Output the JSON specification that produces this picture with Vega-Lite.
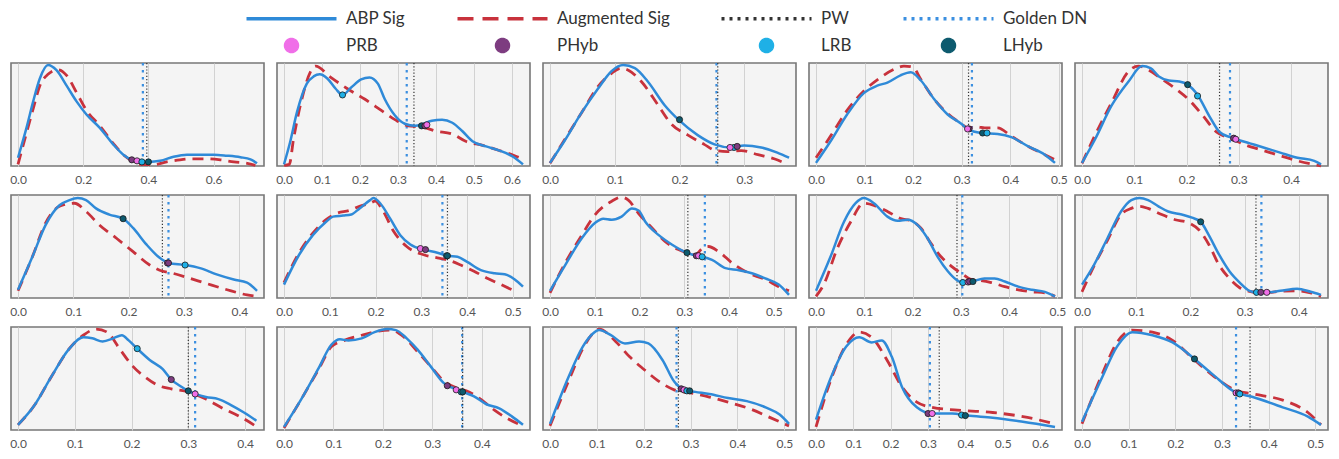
{
  "$schema": "https://vega.github.io/schema/vega-lite/v6.json",
  "padding": {"left": 8, "top": 10, "right": 4, "bottom": 4},
  "background": "white",
  "data": {"values": [
    {"panel":1,"series":"ABP Sig","x":0,"y":0.08},{"panel":1,"series":"ABP Sig","x":0.026,"y":0.37},{"panel":1,"series":"ABP Sig","x":0.046,"y":0.62},{"panel":1,"series":"ABP Sig","x":0.067,"y":0.85},{"panel":1,"series":"ABP Sig","x":0.092,"y":0.98},{"panel":1,"series":"ABP Sig","x":0.118,"y":0.93},{"panel":1,"series":"ABP Sig","x":0.149,"y":0.78},{"panel":1,"series":"ABP Sig","x":0.179,"y":0.63},{"panel":1,"series":"ABP Sig","x":0.21,"y":0.5},{"panel":1,"series":"ABP Sig","x":0.251,"y":0.37},{"panel":1,"series":"ABP Sig","x":0.292,"y":0.21},{"panel":1,"series":"ABP Sig","x":0.323,"y":0.11},{"panel":1,"series":"ABP Sig","x":0.349,"y":0.06},{"panel":1,"series":"ABP Sig","x":0.374,"y":0.04},{"panel":1,"series":"ABP Sig","x":0.4,"y":0.04},{"panel":1,"series":"ABP Sig","x":0.436,"y":0.05},{"panel":1,"series":"ABP Sig","x":0.477,"y":0.09},{"panel":1,"series":"ABP Sig","x":0.518,"y":0.11},{"panel":1,"series":"ABP Sig","x":0.559,"y":0.11},{"panel":1,"series":"ABP Sig","x":0.6,"y":0.11},{"panel":1,"series":"ABP Sig","x":0.641,"y":0.1},{"panel":1,"series":"ABP Sig","x":0.682,"y":0.085},{"panel":1,"series":"ABP Sig","x":0.713,"y":0.065},{"panel":1,"series":"ABP Sig","x":0.733,"y":0.026},
    {"panel":1,"series":"Augmented Sig","x":0,"y":0.016},{"panel":1,"series":"Augmented Sig","x":0.026,"y":0.32},{"panel":1,"series":"Augmented Sig","x":0.046,"y":0.55},{"panel":1,"series":"Augmented Sig","x":0.067,"y":0.78},{"panel":1,"series":"Augmented Sig","x":0.092,"y":0.89},{"panel":1,"series":"Augmented Sig","x":0.123,"y":0.935},{"panel":1,"series":"Augmented Sig","x":0.149,"y":0.88},{"panel":1,"series":"Augmented Sig","x":0.18,"y":0.71},{"panel":1,"series":"Augmented Sig","x":0.21,"y":0.54},{"panel":1,"series":"Augmented Sig","x":0.251,"y":0.39},{"panel":1,"series":"Augmented Sig","x":0.292,"y":0.22},{"panel":1,"series":"Augmented Sig","x":0.323,"y":0.11},{"panel":1,"series":"Augmented Sig","x":0.349,"y":0.05},{"panel":1,"series":"Augmented Sig","x":0.374,"y":0.016},{"panel":1,"series":"Augmented Sig","x":0.415,"y":0.013},{"panel":1,"series":"Augmented Sig","x":0.456,"y":0.04},{"panel":1,"series":"Augmented Sig","x":0.497,"y":0.06},{"panel":1,"series":"Augmented Sig","x":0.538,"y":0.07},{"panel":1,"series":"Augmented Sig","x":0.579,"y":0.07},{"panel":1,"series":"Augmented Sig","x":0.621,"y":0.06},{"panel":1,"series":"Augmented Sig","x":0.662,"y":0.04},{"panel":1,"series":"Augmented Sig","x":0.703,"y":0.026},{"panel":1,"series":"Augmented Sig","x":0.728,"y":0.006},
    {"panel":1,"series":"PW","x":0.395},{"panel":1,"series":"Golden DN","x":0.383},
    {"panel":1,"series":"PHyb","x":0.349,"y":0.06},{"panel":1,"series":"PRB","x":0.365,"y":0.05},{"panel":1,"series":"LRB","x":0.38,"y":0.04},{"panel":1,"series":"LHyb","x":0.4,"y":0.04},

    {"panel":2,"series":"ABP Sig","x":0,"y":0.016},{"panel":2,"series":"ABP Sig","x":0.016,"y":0.23},{"panel":2,"series":"ABP Sig","x":0.034,"y":0.52},{"panel":2,"series":"ABP Sig","x":0.06,"y":0.8},{"panel":2,"series":"ABP Sig","x":0.078,"y":0.87},{"panel":2,"series":"ABP Sig","x":0.094,"y":0.89},{"panel":2,"series":"ABP Sig","x":0.114,"y":0.85},{"panel":2,"series":"ABP Sig","x":0.136,"y":0.75},{"panel":2,"series":"ABP Sig","x":0.154,"y":0.69},{"panel":2,"series":"ABP Sig","x":0.176,"y":0.76},{"panel":2,"series":"ABP Sig","x":0.203,"y":0.84},{"panel":2,"series":"ABP Sig","x":0.225,"y":0.86},{"panel":2,"series":"ABP Sig","x":0.247,"y":0.8},{"panel":2,"series":"ABP Sig","x":0.265,"y":0.65},{"panel":2,"series":"ABP Sig","x":0.292,"y":0.49},{"panel":2,"series":"ABP Sig","x":0.318,"y":0.41},{"panel":2,"series":"ABP Sig","x":0.345,"y":0.39},{"panel":2,"series":"ABP Sig","x":0.367,"y":0.41},{"panel":2,"series":"ABP Sig","x":0.389,"y":0.44},{"panel":2,"series":"ABP Sig","x":0.416,"y":0.45},{"panel":2,"series":"ABP Sig","x":0.443,"y":0.42},{"panel":2,"series":"ABP Sig","x":0.469,"y":0.34},{"panel":2,"series":"ABP Sig","x":0.496,"y":0.24},{"panel":2,"series":"ABP Sig","x":0.532,"y":0.19},{"panel":2,"series":"ABP Sig","x":0.567,"y":0.15},{"panel":2,"series":"ABP Sig","x":0.603,"y":0.09},{"panel":2,"series":"ABP Sig","x":0.629,"y":0.016},
    {"panel":2,"series":"Augmented Sig","x":0,"y":0.006},{"panel":2,"series":"Augmented Sig","x":0.014,"y":0.016},{"panel":2,"series":"Augmented Sig","x":0.025,"y":0.26},{"panel":2,"series":"Augmented Sig","x":0.047,"y":0.65},{"panel":2,"series":"Augmented Sig","x":0.069,"y":0.91},{"panel":2,"series":"Augmented Sig","x":0.083,"y":0.97},{"panel":2,"series":"Augmented Sig","x":0.123,"y":0.86},{"panel":2,"series":"Augmented Sig","x":0.167,"y":0.75},{"panel":2,"series":"Augmented Sig","x":0.212,"y":0.65},{"panel":2,"series":"Augmented Sig","x":0.256,"y":0.54},{"panel":2,"series":"Augmented Sig","x":0.292,"y":0.45},{"panel":2,"series":"Augmented Sig","x":0.327,"y":0.39},{"panel":2,"series":"Augmented Sig","x":0.363,"y":0.38},{"panel":2,"series":"Augmented Sig","x":0.398,"y":0.34},{"panel":2,"series":"Augmented Sig","x":0.443,"y":0.31},{"panel":2,"series":"Augmented Sig","x":0.478,"y":0.24},{"panel":2,"series":"Augmented Sig","x":0.523,"y":0.2},{"panel":2,"series":"Augmented Sig","x":0.567,"y":0.15},{"panel":2,"series":"Augmented Sig","x":0.607,"y":0.1},{"panel":2,"series":"Augmented Sig","x":0.62,"y":0.08},
    {"panel":2,"series":"PW","x":0.342},{"panel":2,"series":"Golden DN","x":0.323},
    {"panel":2,"series":"LRB","x":0.154,"y":0.69},{"panel":2,"series":"LHyb","x":0.362,"y":0.39},{"panel":2,"series":"PHyb","x":0.371,"y":0.39},{"panel":2,"series":"PRB","x":0.376,"y":0.4},

    {"panel":3,"series":"ABP Sig","x":0,"y":0.03},{"panel":3,"series":"ABP Sig","x":0.023,"y":0.25},{"panel":3,"series":"ABP Sig","x":0.049,"y":0.52},{"panel":3,"series":"ABP Sig","x":0.074,"y":0.75},{"panel":3,"series":"ABP Sig","x":0.095,"y":0.92},{"panel":3,"series":"ABP Sig","x":0.113,"y":0.98},{"panel":3,"series":"ABP Sig","x":0.131,"y":0.95},{"panel":3,"series":"ABP Sig","x":0.151,"y":0.82},{"panel":3,"series":"ABP Sig","x":0.177,"y":0.59},{"panel":3,"series":"ABP Sig","x":0.2,"y":0.44},{"panel":3,"series":"ABP Sig","x":0.228,"y":0.3},{"panel":3,"series":"ABP Sig","x":0.254,"y":0.21},{"panel":3,"series":"ABP Sig","x":0.279,"y":0.18},{"panel":3,"series":"ABP Sig","x":0.3,"y":0.2},{"panel":3,"series":"ABP Sig","x":0.326,"y":0.18},{"panel":3,"series":"ABP Sig","x":0.351,"y":0.13},{"panel":3,"series":"ABP Sig","x":0.369,"y":0.08},
    {"panel":3,"series":"Augmented Sig","x":0,"y":0.026},{"panel":3,"series":"Augmented Sig","x":0.023,"y":0.26},{"panel":3,"series":"Augmented Sig","x":0.049,"y":0.52},{"panel":3,"series":"Augmented Sig","x":0.074,"y":0.77},{"panel":3,"series":"Augmented Sig","x":0.095,"y":0.9},{"panel":3,"series":"Augmented Sig","x":0.11,"y":0.95},{"panel":3,"series":"Augmented Sig","x":0.121,"y":0.93},{"panel":3,"series":"Augmented Sig","x":0.141,"y":0.82},{"panel":3,"series":"Augmented Sig","x":0.167,"y":0.59},{"panel":3,"series":"Augmented Sig","x":0.187,"y":0.41},{"panel":3,"series":"Augmented Sig","x":0.213,"y":0.3},{"panel":3,"series":"Augmented Sig","x":0.238,"y":0.21},{"panel":3,"series":"Augmented Sig","x":0.256,"y":0.15},{"panel":3,"series":"Augmented Sig","x":0.274,"y":0.14},{"panel":3,"series":"Augmented Sig","x":0.295,"y":0.15},{"panel":3,"series":"Augmented Sig","x":0.321,"y":0.11},{"panel":3,"series":"Augmented Sig","x":0.346,"y":0.07},{"panel":3,"series":"Augmented Sig","x":0.367,"y":0.016},
    {"panel":3,"series":"PW","x":0.259},{"panel":3,"series":"Golden DN","x":0.257},
    {"panel":3,"series":"LHyb","x":0.2,"y":0.45},{"panel":3,"series":"LRB","x":0.284,"y":0.18},{"panel":3,"series":"PRB","x":0.278,"y":0.18},{"panel":3,"series":"PHyb","x":0.289,"y":0.19},

    {"panel":4,"series":"ABP Sig","x":0,"y":0.03},{"panel":4,"series":"ABP Sig","x":0.03,"y":0.24},{"panel":4,"series":"ABP Sig","x":0.064,"y":0.5},{"panel":4,"series":"ABP Sig","x":0.099,"y":0.71},{"panel":4,"series":"ABP Sig","x":0.126,"y":0.78},{"panel":4,"series":"ABP Sig","x":0.147,"y":0.81},{"panel":4,"series":"ABP Sig","x":0.174,"y":0.88},{"panel":4,"series":"ABP Sig","x":0.195,"y":0.91},{"panel":4,"series":"ABP Sig","x":0.216,"y":0.83},{"panel":4,"series":"ABP Sig","x":0.243,"y":0.65},{"panel":4,"series":"ABP Sig","x":0.271,"y":0.5},{"panel":4,"series":"ABP Sig","x":0.299,"y":0.41},{"panel":4,"series":"ABP Sig","x":0.312,"y":0.36},{"panel":4,"series":"ABP Sig","x":0.34,"y":0.32},{"panel":4,"series":"ABP Sig","x":0.374,"y":0.31},{"panel":4,"series":"ABP Sig","x":0.402,"y":0.28},{"panel":4,"series":"ABP Sig","x":0.437,"y":0.19},{"panel":4,"series":"ABP Sig","x":0.471,"y":0.11},{"panel":4,"series":"ABP Sig","x":0.492,"y":0.03},
    {"panel":4,"series":"Augmented Sig","x":0,"y":0.08},{"panel":4,"series":"Augmented Sig","x":0.03,"y":0.29},{"panel":4,"series":"Augmented Sig","x":0.064,"y":0.54},{"panel":4,"series":"Augmented Sig","x":0.099,"y":0.73},{"panel":4,"series":"Augmented Sig","x":0.133,"y":0.86},{"panel":4,"series":"Augmented Sig","x":0.161,"y":0.94},{"panel":4,"series":"Augmented Sig","x":0.181,"y":0.97},{"panel":4,"series":"Augmented Sig","x":0.199,"y":0.96},{"panel":4,"series":"Augmented Sig","x":0.216,"y":0.84},{"panel":4,"series":"Augmented Sig","x":0.243,"y":0.65},{"panel":4,"series":"Augmented Sig","x":0.271,"y":0.51},{"panel":4,"series":"Augmented Sig","x":0.299,"y":0.41},{"panel":4,"series":"Augmented Sig","x":0.312,"y":0.37},{"panel":4,"series":"Augmented Sig","x":0.333,"y":0.38},{"panel":4,"series":"Augmented Sig","x":0.347,"y":0.37},{"panel":4,"series":"Augmented Sig","x":0.374,"y":0.37},{"panel":4,"series":"Augmented Sig","x":0.402,"y":0.29},{"panel":4,"series":"Augmented Sig","x":0.437,"y":0.19},{"panel":4,"series":"Augmented Sig","x":0.471,"y":0.11},{"panel":4,"series":"Augmented Sig","x":0.492,"y":0.06},
    {"panel":4,"series":"PW","x":0.314},{"panel":4,"series":"Golden DN","x":0.321},
    {"panel":4,"series":"PHyb","x":0.315,"y":0.36},{"panel":4,"series":"PRB","x":0.312,"y":0.36},{"panel":4,"series":"LHyb","x":0.343,"y":0.32},{"panel":4,"series":"LRB","x":0.352,"y":0.32},

    {"panel":5,"series":"ABP Sig","x":0,"y":0.03},{"panel":5,"series":"ABP Sig","x":0.025,"y":0.26},{"panel":5,"series":"ABP Sig","x":0.057,"y":0.59},{"panel":5,"series":"ABP Sig","x":0.089,"y":0.82},{"panel":5,"series":"ABP Sig","x":0.115,"y":0.97},{"panel":5,"series":"ABP Sig","x":0.131,"y":0.95},{"panel":5,"series":"ABP Sig","x":0.147,"y":0.87},{"panel":5,"series":"ABP Sig","x":0.166,"y":0.83},{"panel":5,"series":"ABP Sig","x":0.186,"y":0.82},{"panel":5,"series":"ABP Sig","x":0.202,"y":0.79},{"panel":5,"series":"ABP Sig","x":0.221,"y":0.69},{"panel":5,"series":"ABP Sig","x":0.244,"y":0.48},{"panel":5,"series":"ABP Sig","x":0.263,"y":0.33},{"panel":5,"series":"ABP Sig","x":0.283,"y":0.28},{"panel":5,"series":"ABP Sig","x":0.295,"y":0.26},{"panel":5,"series":"ABP Sig","x":0.321,"y":0.22},{"panel":5,"series":"ABP Sig","x":0.347,"y":0.18},{"panel":5,"series":"ABP Sig","x":0.379,"y":0.13},{"panel":5,"series":"ABP Sig","x":0.412,"y":0.08},{"panel":5,"series":"ABP Sig","x":0.444,"y":0.05},{"panel":5,"series":"ABP Sig","x":0.457,"y":0.016},
    {"panel":5,"series":"Augmented Sig","x":0,"y":0.026},{"panel":5,"series":"Augmented Sig","x":0.025,"y":0.3},{"panel":5,"series":"Augmented Sig","x":0.057,"y":0.62},{"panel":5,"series":"Augmented Sig","x":0.089,"y":0.92},{"panel":5,"series":"Augmented Sig","x":0.108,"y":0.97},{"panel":5,"series":"Augmented Sig","x":0.128,"y":0.93},{"panel":5,"series":"Augmented Sig","x":0.154,"y":0.84},{"panel":5,"series":"Augmented Sig","x":0.179,"y":0.75},{"panel":5,"series":"Augmented Sig","x":0.205,"y":0.64},{"panel":5,"series":"Augmented Sig","x":0.231,"y":0.49},{"panel":5,"series":"Augmented Sig","x":0.257,"y":0.33},{"panel":5,"series":"Augmented Sig","x":0.283,"y":0.27},{"panel":5,"series":"Augmented Sig","x":0.315,"y":0.2},{"panel":5,"series":"Augmented Sig","x":0.347,"y":0.15},{"panel":5,"series":"Augmented Sig","x":0.379,"y":0.1},{"panel":5,"series":"Augmented Sig","x":0.412,"y":0.05},{"panel":5,"series":"Augmented Sig","x":0.457,"y":0.0},
    {"panel":5,"series":"PW","x":0.263},{"panel":5,"series":"Golden DN","x":0.283},
    {"panel":5,"series":"LHyb","x":0.202,"y":0.79},{"panel":5,"series":"LRB","x":0.221,"y":0.68},{"panel":5,"series":"PHyb","x":0.29,"y":0.27},{"panel":5,"series":"PRB","x":0.294,"y":0.26},

    {"panel":6,"series":"ABP Sig","x":0,"y":0.08},{"panel":6,"series":"ABP Sig","x":0.026,"y":0.4},{"panel":6,"series":"ABP Sig","x":0.05,"y":0.71},{"panel":6,"series":"ABP Sig","x":0.075,"y":0.9},{"panel":6,"series":"ABP Sig","x":0.093,"y":0.95},{"panel":6,"series":"ABP Sig","x":0.108,"y":0.97},{"panel":6,"series":"ABP Sig","x":0.123,"y":0.95},{"panel":6,"series":"ABP Sig","x":0.141,"y":0.87},{"panel":6,"series":"ABP Sig","x":0.165,"y":0.81},{"panel":6,"series":"ABP Sig","x":0.19,"y":0.77},{"panel":6,"series":"ABP Sig","x":0.208,"y":0.68},{"panel":6,"series":"ABP Sig","x":0.232,"y":0.52},{"panel":6,"series":"ABP Sig","x":0.256,"y":0.39},{"panel":6,"series":"ABP Sig","x":0.272,"y":0.34},{"panel":6,"series":"ABP Sig","x":0.302,"y":0.32},{"panel":6,"series":"ABP Sig","x":0.329,"y":0.29},{"panel":6,"series":"ABP Sig","x":0.359,"y":0.23},{"panel":6,"series":"ABP Sig","x":0.39,"y":0.18},{"panel":6,"series":"ABP Sig","x":0.414,"y":0.15},{"panel":6,"series":"ABP Sig","x":0.432,"y":0.07},
    {"panel":6,"series":"Augmented Sig","x":0,"y":0.07},{"panel":6,"series":"Augmented Sig","x":0.026,"y":0.4},{"panel":6,"series":"Augmented Sig","x":0.05,"y":0.73},{"panel":6,"series":"Augmented Sig","x":0.075,"y":0.89},{"panel":6,"series":"Augmented Sig","x":0.102,"y":0.92},{"panel":6,"series":"Augmented Sig","x":0.123,"y":0.84},{"panel":6,"series":"Augmented Sig","x":0.147,"y":0.71},{"panel":6,"series":"Augmented Sig","x":0.178,"y":0.58},{"panel":6,"series":"Augmented Sig","x":0.208,"y":0.45},{"panel":6,"series":"Augmented Sig","x":0.238,"y":0.32},{"panel":6,"series":"Augmented Sig","x":0.256,"y":0.27},{"panel":6,"series":"Augmented Sig","x":0.28,"y":0.24},{"panel":6,"series":"Augmented Sig","x":0.311,"y":0.19},{"panel":6,"series":"Augmented Sig","x":0.341,"y":0.14},{"panel":6,"series":"Augmented Sig","x":0.378,"y":0.08},{"panel":6,"series":"Augmented Sig","x":0.414,"y":0.03},{"panel":6,"series":"Augmented Sig","x":0.432,"y":0.016},
    {"panel":6,"series":"PW","x":0.261},{"panel":6,"series":"Golden DN","x":0.272},
    {"panel":6,"series":"LHyb","x":0.19,"y":0.77},{"panel":6,"series":"PRB","x":0.27,"y":0.34},{"panel":6,"series":"PHyb","x":0.272,"y":0.34},{"panel":6,"series":"LRB","x":0.302,"y":0.32},

    {"panel":7,"series":"ABP Sig","x":0,"y":0.13},{"panel":7,"series":"ABP Sig","x":0.033,"y":0.42},{"panel":7,"series":"ABP Sig","x":0.063,"y":0.61},{"panel":7,"series":"ABP Sig","x":0.092,"y":0.74},{"panel":7,"series":"ABP Sig","x":0.107,"y":0.79},{"panel":7,"series":"ABP Sig","x":0.129,"y":0.8},{"panel":7,"series":"ABP Sig","x":0.147,"y":0.81},{"panel":7,"series":"ABP Sig","x":0.165,"y":0.87},{"panel":7,"series":"ABP Sig","x":0.188,"y":0.95},{"panel":7,"series":"ABP Sig","x":0.195,"y":0.97},{"panel":7,"series":"ABP Sig","x":0.21,"y":0.92},{"panel":7,"series":"ABP Sig","x":0.232,"y":0.77},{"panel":7,"series":"ABP Sig","x":0.254,"y":0.61},{"panel":7,"series":"ABP Sig","x":0.276,"y":0.52},{"panel":7,"series":"ABP Sig","x":0.305,"y":0.47},{"panel":7,"series":"ABP Sig","x":0.335,"y":0.44},{"panel":7,"series":"ABP Sig","x":0.357,"y":0.41},{"panel":7,"series":"ABP Sig","x":0.379,"y":0.4},{"panel":7,"series":"ABP Sig","x":0.4,"y":0.35},{"panel":7,"series":"ABP Sig","x":0.43,"y":0.27},{"panel":7,"series":"ABP Sig","x":0.46,"y":0.24},{"panel":7,"series":"ABP Sig","x":0.482,"y":0.23},{"panel":7,"series":"ABP Sig","x":0.504,"y":0.18},{"panel":7,"series":"ABP Sig","x":0.522,"y":0.11},
    {"panel":7,"series":"Augmented Sig","x":0,"y":0.15},{"panel":7,"series":"Augmented Sig","x":0.033,"y":0.44},{"panel":7,"series":"Augmented Sig","x":0.063,"y":0.63},{"panel":7,"series":"Augmented Sig","x":0.092,"y":0.76},{"panel":7,"series":"Augmented Sig","x":0.114,"y":0.82},{"panel":7,"series":"Augmented Sig","x":0.143,"y":0.85},{"panel":7,"series":"Augmented Sig","x":0.165,"y":0.89},{"panel":7,"series":"Augmented Sig","x":0.188,"y":0.92},{"panel":7,"series":"Augmented Sig","x":0.199,"y":0.94},{"panel":7,"series":"Augmented Sig","x":0.217,"y":0.84},{"panel":7,"series":"Augmented Sig","x":0.239,"y":0.65},{"panel":7,"series":"Augmented Sig","x":0.268,"y":0.5},{"panel":7,"series":"Augmented Sig","x":0.305,"y":0.42},{"panel":7,"series":"Augmented Sig","x":0.335,"y":0.39},{"panel":7,"series":"Augmented Sig","x":0.357,"y":0.37},{"panel":7,"series":"Augmented Sig","x":0.386,"y":0.32},{"panel":7,"series":"Augmented Sig","x":0.415,"y":0.26},{"panel":7,"series":"Augmented Sig","x":0.445,"y":0.19},{"panel":7,"series":"Augmented Sig","x":0.474,"y":0.13},{"panel":7,"series":"Augmented Sig","x":0.507,"y":0.06},
    {"panel":7,"series":"PW","x":0.357},{"panel":7,"series":"Golden DN","x":0.346},
    {"panel":7,"series":"PRB","x":0.298,"y":0.48},{"panel":7,"series":"PHyb","x":0.309,"y":0.47},{"panel":7,"series":"LRB","x":0.355,"y":0.41},{"panel":7,"series":"LHyb","x":0.357,"y":0.41},

    {"panel":8,"series":"ABP Sig","x":0,"y":0.07},{"panel":8,"series":"ABP Sig","x":0.034,"y":0.32},{"panel":8,"series":"ABP Sig","x":0.071,"y":0.58},{"panel":8,"series":"ABP Sig","x":0.101,"y":0.73},{"panel":8,"series":"ABP Sig","x":0.119,"y":0.77},{"panel":8,"series":"ABP Sig","x":0.138,"y":0.76},{"panel":8,"series":"ABP Sig","x":0.16,"y":0.79},{"panel":8,"series":"ABP Sig","x":0.183,"y":0.87},{"panel":8,"series":"ABP Sig","x":0.198,"y":0.85},{"panel":8,"series":"ABP Sig","x":0.213,"y":0.74},{"panel":8,"series":"ABP Sig","x":0.243,"y":0.61},{"panel":8,"series":"ABP Sig","x":0.272,"y":0.52},{"panel":8,"series":"ABP Sig","x":0.306,"y":0.44},{"panel":8,"series":"ABP Sig","x":0.328,"y":0.41},{"panel":8,"series":"ABP Sig","x":0.34,"y":0.4},{"panel":8,"series":"ABP Sig","x":0.362,"y":0.37},{"panel":8,"series":"ABP Sig","x":0.392,"y":0.29},{"panel":8,"series":"ABP Sig","x":0.422,"y":0.27},{"panel":8,"series":"ABP Sig","x":0.451,"y":0.24},{"panel":8,"series":"ABP Sig","x":0.481,"y":0.19},{"panel":8,"series":"ABP Sig","x":0.511,"y":0.13},{"panel":8,"series":"ABP Sig","x":0.534,"y":0.03},
    {"panel":8,"series":"Augmented Sig","x":0,"y":0.05},{"panel":8,"series":"Augmented Sig","x":0.034,"y":0.34},{"panel":8,"series":"Augmented Sig","x":0.071,"y":0.61},{"panel":8,"series":"Augmented Sig","x":0.101,"y":0.81},{"panel":8,"series":"Augmented Sig","x":0.138,"y":0.94},{"panel":8,"series":"Augmented Sig","x":0.16,"y":0.98},{"panel":8,"series":"Augmented Sig","x":0.175,"y":0.95},{"panel":8,"series":"Augmented Sig","x":0.198,"y":0.82},{"panel":8,"series":"Augmented Sig","x":0.228,"y":0.68},{"panel":8,"series":"Augmented Sig","x":0.257,"y":0.55},{"panel":8,"series":"Augmented Sig","x":0.287,"y":0.47},{"panel":8,"series":"Augmented Sig","x":0.306,"y":0.44},{"panel":8,"series":"Augmented Sig","x":0.325,"y":0.42},{"panel":8,"series":"Augmented Sig","x":0.34,"y":0.48},{"panel":8,"series":"Augmented Sig","x":0.354,"y":0.5},{"panel":8,"series":"Augmented Sig","x":0.377,"y":0.45},{"panel":8,"series":"Augmented Sig","x":0.407,"y":0.34},{"panel":8,"series":"Augmented Sig","x":0.444,"y":0.24},{"panel":8,"series":"Augmented Sig","x":0.481,"y":0.18},{"panel":8,"series":"Augmented Sig","x":0.511,"y":0.11},{"panel":8,"series":"Augmented Sig","x":0.534,"y":0.07},
    {"panel":8,"series":"PW","x":0.308},{"panel":8,"series":"Golden DN","x":0.346},
    {"panel":8,"series":"LHyb","x":0.306,"y":0.44},{"panel":8,"series":"PHyb","x":0.327,"y":0.41},{"panel":8,"series":"PRB","x":0.332,"y":0.41},{"panel":8,"series":"LRB","x":0.34,"y":0.4},

    {"panel":9,"series":"ABP Sig","x":0,"y":0.07},{"panel":9,"series":"ABP Sig","x":0.03,"y":0.4},{"panel":9,"series":"ABP Sig","x":0.058,"y":0.74},{"panel":9,"series":"ABP Sig","x":0.082,"y":0.92},{"panel":9,"series":"ABP Sig","x":0.099,"y":0.97},{"panel":9,"series":"ABP Sig","x":0.12,"y":0.92},{"panel":9,"series":"ABP Sig","x":0.148,"y":0.79},{"panel":9,"series":"ABP Sig","x":0.169,"y":0.75},{"panel":9,"series":"ABP Sig","x":0.19,"y":0.76},{"panel":9,"series":"ABP Sig","x":0.21,"y":0.71},{"panel":9,"series":"ABP Sig","x":0.231,"y":0.58},{"panel":9,"series":"ABP Sig","x":0.252,"y":0.4},{"panel":9,"series":"ABP Sig","x":0.273,"y":0.26},{"panel":9,"series":"ABP Sig","x":0.29,"y":0.18},{"panel":9,"series":"ABP Sig","x":0.304,"y":0.15},{"panel":9,"series":"ABP Sig","x":0.322,"y":0.16},{"panel":9,"series":"ABP Sig","x":0.349,"y":0.19},{"panel":9,"series":"ABP Sig","x":0.37,"y":0.19},{"panel":9,"series":"ABP Sig","x":0.391,"y":0.16},{"panel":9,"series":"ABP Sig","x":0.419,"y":0.11},{"panel":9,"series":"ABP Sig","x":0.447,"y":0.08},{"panel":9,"series":"ABP Sig","x":0.474,"y":0.06},{"panel":9,"series":"ABP Sig","x":0.495,"y":0.016},
    {"panel":9,"series":"Augmented Sig","x":0,"y":0.016},{"panel":9,"series":"Augmented Sig","x":0.016,"y":0.13},{"panel":9,"series":"Augmented Sig","x":0.044,"y":0.48},{"panel":9,"series":"Augmented Sig","x":0.072,"y":0.74},{"panel":9,"series":"Augmented Sig","x":0.099,"y":0.92},{"panel":9,"series":"Augmented Sig","x":0.12,"y":0.9},{"panel":9,"series":"Augmented Sig","x":0.148,"y":0.84},{"panel":9,"series":"Augmented Sig","x":0.176,"y":0.77},{"panel":9,"series":"Augmented Sig","x":0.197,"y":0.75},{"panel":9,"series":"Augmented Sig","x":0.217,"y":0.68},{"panel":9,"series":"Augmented Sig","x":0.238,"y":0.53},{"panel":9,"series":"Augmented Sig","x":0.259,"y":0.4},{"panel":9,"series":"Augmented Sig","x":0.28,"y":0.31},{"panel":9,"series":"Augmented Sig","x":0.301,"y":0.24},{"panel":9,"series":"Augmented Sig","x":0.322,"y":0.18},{"panel":9,"series":"Augmented Sig","x":0.342,"y":0.17},{"panel":9,"series":"Augmented Sig","x":0.363,"y":0.15},{"panel":9,"series":"Augmented Sig","x":0.391,"y":0.11},{"panel":9,"series":"Augmented Sig","x":0.419,"y":0.08},{"panel":9,"series":"Augmented Sig","x":0.447,"y":0.06},{"panel":9,"series":"Augmented Sig","x":0.474,"y":0.05},{"panel":9,"series":"Augmented Sig","x":0.495,"y":0.016},
    {"panel":9,"series":"PW","x":0.292},{"panel":9,"series":"Golden DN","x":0.303},
    {"panel":9,"series":"LRB","x":0.304,"y":0.15},{"panel":9,"series":"PRB","x":0.315,"y":0.155},{"panel":9,"series":"PHyb","x":0.318,"y":0.16},{"panel":9,"series":"LHyb","x":0.325,"y":0.16},

    {"panel":10,"series":"ABP Sig","x":0,"y":0.13},{"panel":10,"series":"ABP Sig","x":0.022,"y":0.32},{"panel":10,"series":"ABP Sig","x":0.047,"y":0.58},{"panel":10,"series":"ABP Sig","x":0.072,"y":0.84},{"panel":10,"series":"ABP Sig","x":0.091,"y":0.95},{"panel":10,"series":"ABP Sig","x":0.106,"y":0.97},{"panel":10,"series":"ABP Sig","x":0.122,"y":0.95},{"panel":10,"series":"ABP Sig","x":0.141,"y":0.89},{"panel":10,"series":"ABP Sig","x":0.159,"y":0.84},{"panel":10,"series":"ABP Sig","x":0.184,"y":0.81},{"panel":10,"series":"ABP Sig","x":0.203,"y":0.78},{"panel":10,"series":"ABP Sig","x":0.219,"y":0.74},{"panel":10,"series":"ABP Sig","x":0.234,"y":0.61},{"panel":10,"series":"ABP Sig","x":0.253,"y":0.42},{"panel":10,"series":"ABP Sig","x":0.272,"y":0.26},{"panel":10,"series":"ABP Sig","x":0.291,"y":0.15},{"panel":10,"series":"ABP Sig","x":0.309,"y":0.07},{"panel":10,"series":"ABP Sig","x":0.322,"y":0.055},{"panel":10,"series":"ABP Sig","x":0.341,"y":0.055},{"panel":10,"series":"ABP Sig","x":0.366,"y":0.07},{"panel":10,"series":"ABP Sig","x":0.397,"y":0.09},{"panel":10,"series":"ABP Sig","x":0.422,"y":0.06},{"panel":10,"series":"ABP Sig","x":0.441,"y":0.03},
    {"panel":10,"series":"Augmented Sig","x":0,"y":0.06},{"panel":10,"series":"Augmented Sig","x":0.022,"y":0.31},{"panel":10,"series":"Augmented Sig","x":0.047,"y":0.56},{"panel":10,"series":"Augmented Sig","x":0.072,"y":0.81},{"panel":10,"series":"Augmented Sig","x":0.091,"y":0.87},{"panel":10,"series":"Augmented Sig","x":0.106,"y":0.89},{"panel":10,"series":"Augmented Sig","x":0.122,"y":0.87},{"panel":10,"series":"Augmented Sig","x":0.147,"y":0.81},{"panel":10,"series":"Augmented Sig","x":0.172,"y":0.76},{"panel":10,"series":"Augmented Sig","x":0.197,"y":0.73},{"panel":10,"series":"Augmented Sig","x":0.216,"y":0.66},{"panel":10,"series":"Augmented Sig","x":0.234,"y":0.52},{"panel":10,"series":"Augmented Sig","x":0.253,"y":0.32},{"panel":10,"series":"Augmented Sig","x":0.272,"y":0.19},{"panel":10,"series":"Augmented Sig","x":0.291,"y":0.1},{"panel":10,"series":"Augmented Sig","x":0.309,"y":0.065},{"panel":10,"series":"Augmented Sig","x":0.334,"y":0.05},{"panel":10,"series":"Augmented Sig","x":0.366,"y":0.065},{"panel":10,"series":"Augmented Sig","x":0.397,"y":0.07},{"panel":10,"series":"Augmented Sig","x":0.422,"y":0.05},{"panel":10,"series":"Augmented Sig","x":0.441,"y":0.016},
    {"panel":10,"series":"PW","x":0.321},{"panel":10,"series":"Golden DN","x":0.331},
    {"panel":10,"series":"LHyb","x":0.219,"y":0.74},{"panel":10,"series":"LRB","x":0.322,"y":0.055},{"panel":10,"series":"PHyb","x":0.33,"y":0.055},{"panel":10,"series":"PRB","x":0.341,"y":0.055},

    {"panel":11,"series":"ABP Sig","x":0,"y":0.05},{"panel":11,"series":"ABP Sig","x":0.029,"y":0.24},{"panel":11,"series":"ABP Sig","x":0.059,"y":0.52},{"panel":11,"series":"ABP Sig","x":0.089,"y":0.78},{"panel":11,"series":"ABP Sig","x":0.115,"y":0.9},{"panel":11,"series":"ABP Sig","x":0.131,"y":0.89},{"panel":11,"series":"ABP Sig","x":0.149,"y":0.86},{"panel":11,"series":"ABP Sig","x":0.168,"y":0.89},{"panel":11,"series":"ABP Sig","x":0.183,"y":0.92},{"panel":11,"series":"ABP Sig","x":0.195,"y":0.87},{"panel":11,"series":"ABP Sig","x":0.21,"y":0.79},{"panel":11,"series":"ABP Sig","x":0.232,"y":0.68},{"panel":11,"series":"ABP Sig","x":0.255,"y":0.59},{"panel":11,"series":"ABP Sig","x":0.27,"y":0.49},{"panel":11,"series":"ABP Sig","x":0.285,"y":0.43},{"panel":11,"series":"ABP Sig","x":0.3,"y":0.38},{"panel":11,"series":"ABP Sig","x":0.312,"y":0.35},{"panel":11,"series":"ABP Sig","x":0.331,"y":0.32},{"panel":11,"series":"ABP Sig","x":0.353,"y":0.3},{"panel":11,"series":"ABP Sig","x":0.376,"y":0.24},{"panel":11,"series":"ABP Sig","x":0.398,"y":0.17},{"panel":11,"series":"ABP Sig","x":0.42,"y":0.09},
    {"panel":11,"series":"Augmented Sig","x":0,"y":0.05},{"panel":11,"series":"Augmented Sig","x":0.029,"y":0.24},{"panel":11,"series":"Augmented Sig","x":0.059,"y":0.52},{"panel":11,"series":"Augmented Sig","x":0.089,"y":0.78},{"panel":11,"series":"Augmented Sig","x":0.115,"y":0.92},{"panel":11,"series":"Augmented Sig","x":0.138,"y":0.98},{"panel":11,"series":"Augmented Sig","x":0.157,"y":0.95},{"panel":11,"series":"Augmented Sig","x":0.18,"y":0.78},{"panel":11,"series":"Augmented Sig","x":0.202,"y":0.62},{"panel":11,"series":"Augmented Sig","x":0.225,"y":0.51},{"panel":11,"series":"Augmented Sig","x":0.248,"y":0.43},{"panel":11,"series":"Augmented Sig","x":0.27,"y":0.4},{"panel":11,"series":"Augmented Sig","x":0.3,"y":0.37},{"panel":11,"series":"Augmented Sig","x":0.331,"y":0.3},{"panel":11,"series":"Augmented Sig","x":0.361,"y":0.21},{"panel":11,"series":"Augmented Sig","x":0.391,"y":0.13},{"panel":11,"series":"Augmented Sig","x":0.421,"y":0.03},
    {"panel":11,"series":"PW","x":0.3},{"panel":11,"series":"Golden DN","x":0.312},
    {"panel":11,"series":"LRB","x":0.21,"y":0.79},{"panel":11,"series":"PHyb","x":0.27,"y":0.49},{"panel":11,"series":"LHyb","x":0.3,"y":0.38},{"panel":11,"series":"PRB","x":0.312,"y":0.35},

    {"panel":12,"series":"ABP Sig","x":0,"y":0.03},{"panel":12,"series":"ABP Sig","x":0.035,"y":0.3},{"panel":12,"series":"ABP Sig","x":0.07,"y":0.6},{"panel":12,"series":"ABP Sig","x":0.096,"y":0.83},{"panel":12,"series":"ABP Sig","x":0.113,"y":0.88},{"panel":12,"series":"ABP Sig","x":0.13,"y":0.87},{"panel":12,"series":"ABP Sig","x":0.157,"y":0.89},{"panel":12,"series":"ABP Sig","x":0.183,"y":0.95},{"panel":12,"series":"ABP Sig","x":0.209,"y":0.98},{"panel":12,"series":"ABP Sig","x":0.226,"y":0.97},{"panel":12,"series":"ABP Sig","x":0.248,"y":0.89},{"panel":12,"series":"ABP Sig","x":0.27,"y":0.78},{"panel":12,"series":"ABP Sig","x":0.296,"y":0.62},{"panel":12,"series":"ABP Sig","x":0.322,"y":0.46},{"panel":12,"series":"ABP Sig","x":0.33,"y":0.43},{"panel":12,"series":"ABP Sig","x":0.348,"y":0.4},{"panel":12,"series":"ABP Sig","x":0.361,"y":0.37},{"panel":12,"series":"ABP Sig","x":0.383,"y":0.33},{"panel":12,"series":"ABP Sig","x":0.409,"y":0.25},{"panel":12,"series":"ABP Sig","x":0.435,"y":0.21},{"panel":12,"series":"ABP Sig","x":0.461,"y":0.13},{"panel":12,"series":"ABP Sig","x":0.483,"y":0.05},
    {"panel":12,"series":"Augmented Sig","x":0,"y":0.02},{"panel":12,"series":"Augmented Sig","x":0.035,"y":0.3},{"panel":12,"series":"Augmented Sig","x":0.07,"y":0.59},{"panel":12,"series":"Augmented Sig","x":0.096,"y":0.81},{"panel":12,"series":"Augmented Sig","x":0.122,"y":0.87},{"panel":12,"series":"Augmented Sig","x":0.157,"y":0.92},{"panel":12,"series":"Augmented Sig","x":0.191,"y":0.96},{"panel":12,"series":"Augmented Sig","x":0.217,"y":0.97},{"panel":12,"series":"Augmented Sig","x":0.243,"y":0.9},{"panel":12,"series":"Augmented Sig","x":0.27,"y":0.76},{"panel":12,"series":"Augmented Sig","x":0.296,"y":0.62},{"panel":12,"series":"Augmented Sig","x":0.322,"y":0.48},{"panel":12,"series":"Augmented Sig","x":0.348,"y":0.41},{"panel":12,"series":"Augmented Sig","x":0.374,"y":0.37},{"panel":12,"series":"Augmented Sig","x":0.4,"y":0.29},{"panel":12,"series":"Augmented Sig","x":0.426,"y":0.19},{"panel":12,"series":"Augmented Sig","x":0.452,"y":0.11},{"panel":12,"series":"Augmented Sig","x":0.483,"y":0.04},
    {"panel":12,"series":"PW","x":0.361},{"panel":12,"series":"Golden DN","x":0.36},
    {"panel":12,"series":"PHyb","x":0.33,"y":0.43},{"panel":12,"series":"PRB","x":0.348,"y":0.39},{"panel":12,"series":"LRB","x":0.358,"y":0.37},{"panel":12,"series":"LHyb","x":0.361,"y":0.37},

    {"panel":13,"series":"ABP Sig","x":0,"y":0.06},{"panel":13,"series":"ABP Sig","x":0.04,"y":0.52},{"panel":13,"series":"ABP Sig","x":0.07,"y":0.81},{"panel":13,"series":"ABP Sig","x":0.09,"y":0.93},{"panel":13,"series":"ABP Sig","x":0.105,"y":0.97},{"panel":13,"series":"ABP Sig","x":0.13,"y":0.92},{"panel":13,"series":"ABP Sig","x":0.16,"y":0.84},{"panel":13,"series":"ABP Sig","x":0.19,"y":0.86},{"panel":13,"series":"ABP Sig","x":0.21,"y":0.84},{"panel":13,"series":"ABP Sig","x":0.24,"y":0.68},{"panel":13,"series":"ABP Sig","x":0.265,"y":0.47},{"panel":13,"series":"ABP Sig","x":0.285,"y":0.39},{"panel":13,"series":"ABP Sig","x":0.31,"y":0.37},{"panel":13,"series":"ABP Sig","x":0.34,"y":0.35},{"panel":13,"series":"ABP Sig","x":0.38,"y":0.31},{"panel":13,"series":"ABP Sig","x":0.42,"y":0.28},{"panel":13,"series":"ABP Sig","x":0.46,"y":0.22},{"panel":13,"series":"ABP Sig","x":0.49,"y":0.15},{"panel":13,"series":"ABP Sig","x":0.51,"y":0.06},
    {"panel":13,"series":"Augmented Sig","x":0,"y":0.04},{"panel":13,"series":"Augmented Sig","x":0.04,"y":0.48},{"panel":13,"series":"Augmented Sig","x":0.07,"y":0.79},{"panel":13,"series":"Augmented Sig","x":0.09,"y":0.93},{"panel":13,"series":"Augmented Sig","x":0.105,"y":0.98},{"panel":13,"series":"Augmented Sig","x":0.14,"y":0.86},{"panel":13,"series":"Augmented Sig","x":0.17,"y":0.71},{"panel":13,"series":"Augmented Sig","x":0.2,"y":0.59},{"panel":13,"series":"Augmented Sig","x":0.23,"y":0.48},{"panel":13,"series":"Augmented Sig","x":0.265,"y":0.39},{"panel":13,"series":"Augmented Sig","x":0.3,"y":0.36},{"panel":13,"series":"Augmented Sig","x":0.34,"y":0.32},{"panel":13,"series":"Augmented Sig","x":0.38,"y":0.27},{"panel":13,"series":"Augmented Sig","x":0.43,"y":0.2},{"panel":13,"series":"Augmented Sig","x":0.47,"y":0.12},{"panel":13,"series":"Augmented Sig","x":0.51,"y":0.04},
    {"panel":13,"series":"PW","x":0.274},{"panel":13,"series":"Golden DN","x":0.27},
    {"panel":13,"series":"PHyb","x":0.28,"y":0.4},{"panel":13,"series":"PRB","x":0.286,"y":0.39},{"panel":13,"series":"LRB","x":0.292,"y":0.38},{"panel":13,"series":"LHyb","x":0.298,"y":0.38},

    {"panel":14,"series":"ABP Sig","x":0,"y":0.1},{"panel":14,"series":"ABP Sig","x":0.04,"y":0.51},{"panel":14,"series":"ABP Sig","x":0.081,"y":0.81},{"panel":14,"series":"ABP Sig","x":0.116,"y":0.9},{"panel":14,"series":"ABP Sig","x":0.149,"y":0.85},{"panel":14,"series":"ABP Sig","x":0.176,"y":0.87},{"panel":14,"series":"ABP Sig","x":0.203,"y":0.71},{"panel":14,"series":"ABP Sig","x":0.23,"y":0.42},{"panel":14,"series":"ABP Sig","x":0.27,"y":0.22},{"panel":14,"series":"ABP Sig","x":0.311,"y":0.16},{"panel":14,"series":"ABP Sig","x":0.365,"y":0.16},{"panel":14,"series":"ABP Sig","x":0.405,"y":0.14},{"panel":14,"series":"ABP Sig","x":0.473,"y":0.12},{"panel":14,"series":"ABP Sig","x":0.554,"y":0.08},{"panel":14,"series":"ABP Sig","x":0.64,"y":0.03},
    {"panel":14,"series":"Augmented Sig","x":0,"y":0.03},{"panel":14,"series":"Augmented Sig","x":0.04,"y":0.49},{"panel":14,"series":"Augmented Sig","x":0.081,"y":0.83},{"panel":14,"series":"Augmented Sig","x":0.116,"y":0.95},{"panel":14,"series":"Augmented Sig","x":0.149,"y":0.9},{"panel":14,"series":"Augmented Sig","x":0.19,"y":0.68},{"panel":14,"series":"Augmented Sig","x":0.23,"y":0.42},{"panel":14,"series":"Augmented Sig","x":0.27,"y":0.27},{"panel":14,"series":"Augmented Sig","x":0.311,"y":0.22},{"panel":14,"series":"Augmented Sig","x":0.392,"y":0.19},{"panel":14,"series":"Augmented Sig","x":0.473,"y":0.17},{"panel":14,"series":"Augmented Sig","x":0.554,"y":0.13},{"panel":14,"series":"Augmented Sig","x":0.64,"y":0.06},
    {"panel":14,"series":"PW","x":0.33},{"panel":14,"series":"Golden DN","x":0.305},
    {"panel":14,"series":"PHyb","x":0.3,"y":0.16},{"panel":14,"series":"PRB","x":0.311,"y":0.16},{"panel":14,"series":"LRB","x":0.39,"y":0.145},{"panel":14,"series":"LHyb","x":0.4,"y":0.14},

    {"panel":15,"series":"ABP Sig","x":0,"y":0.08},{"panel":15,"series":"ABP Sig","x":0.043,"y":0.51},{"panel":15,"series":"ABP Sig","x":0.075,"y":0.81},{"panel":15,"series":"ABP Sig","x":0.108,"y":0.95},{"panel":15,"series":"ABP Sig","x":0.151,"y":0.92},{"panel":15,"series":"ABP Sig","x":0.194,"y":0.85},{"panel":15,"series":"ABP Sig","x":0.241,"y":0.69},{"panel":15,"series":"ABP Sig","x":0.28,"y":0.54},{"panel":15,"series":"ABP Sig","x":0.327,"y":0.37},{"panel":15,"series":"ABP Sig","x":0.366,"y":0.32},{"panel":15,"series":"ABP Sig","x":0.43,"y":0.22},{"panel":15,"series":"ABP Sig","x":0.484,"y":0.13},{"panel":15,"series":"ABP Sig","x":0.512,"y":0.05},
    {"panel":15,"series":"Augmented Sig","x":0,"y":0.06},{"panel":15,"series":"Augmented Sig","x":0.043,"y":0.54},{"panel":15,"series":"Augmented Sig","x":0.075,"y":0.85},{"panel":15,"series":"Augmented Sig","x":0.108,"y":0.97},{"panel":15,"series":"Augmented Sig","x":0.151,"y":0.95},{"panel":15,"series":"Augmented Sig","x":0.194,"y":0.87},{"panel":15,"series":"Augmented Sig","x":0.241,"y":0.68},{"panel":15,"series":"Augmented Sig","x":0.28,"y":0.53},{"panel":15,"series":"Augmented Sig","x":0.327,"y":0.39},{"panel":15,"series":"Augmented Sig","x":0.366,"y":0.35},{"panel":15,"series":"Augmented Sig","x":0.43,"y":0.29},{"panel":15,"series":"Augmented Sig","x":0.484,"y":0.17},{"panel":15,"series":"Augmented Sig","x":0.512,"y":0.05},
    {"panel":15,"series":"PW","x":0.36},{"panel":15,"series":"Golden DN","x":0.33},
    {"panel":15,"series":"LHyb","x":0.241,"y":0.69},{"panel":15,"series":"PRB","x":0.33,"y":0.36},{"panel":15,"series":"PHyb","x":0.335,"y":0.36},{"panel":15,"series":"LRB","x":0.338,"y":0.35}
  ]},
  "facet": {"field": "panel", "type": "ordinal", "header": {"title": null, "labelExpr": "''", "labelPadding": 0, "labelFontSize": 1}},
  "columns": 5,
  "spacing": {"row": 29, "column": 13},
  "bounds": "flush",
  "resolve": {"scale": {"x": "independent"}},
  "spec": {
    "width": 253,
    "height": 103,
    "encoding": {
      "x": {"field": "x", "type": "quantitative", "scale": {"zero": false, "nice": false, "padding": 7}},
      "color": {
        "field": "series", "type": "nominal",
        "scale": {
          "domain": ["ABP Sig", "Augmented Sig", "PW", "Golden DN", "PRB", "PHyb", "LRB", "LHyb"],
          "range": ["#2f8ad8", "#c8323c", "#333333", "#3b8fe0", "#f06ee8", "#7d3c80", "#1fb0e6", "#0d5a6e"]
        },
        "legend": {
          "title": null,
          "orient": "none",
          "legendX": 235,
          "legendY": -53,
          "direction": "horizontal",
          "columns": 4,
          "columnPadding": 44,
          "rowPadding": 8,
          "padding": 0,
          "symbolSize": 8100,
          "symbolStrokeWidth": 3.5,
          "symbolOffset": 37,
          "labelOffset": 46,
          "labelFontSize": 17,
          "labelColor": "#333333",
          "labelLimit": 300,
          "encode": {
            "symbols": {"update": {
              "shape": {"signal": "indexof(['PRB','PHyb','LRB','LHyb'], datum.value) >= 0 ? 'circle' : 'stroke'"},
              "size": {"signal": "indexof(['PRB','PHyb','LRB','LHyb'], datum.value) >= 0 ? 200 : 8100"},
              "strokeDash": {"signal": "datum.value == 'Augmented Sig' ? [16, 9] : (datum.value == 'PW' || datum.value == 'Golden DN') ? [3, 5] : [1, 0]"},
              "strokeWidth": {"signal": "indexof(['PRB','PHyb','LRB','LHyb'], datum.value) >= 0 ? 1.3 : 3.5"},
              "fill": {"signal": "indexof(['PRB','PHyb','LRB','LHyb'], datum.value) >= 0 ? scale('color', datum.value) : 'transparent'"},
              "stroke": {"signal": "indexof(['PRB','PHyb','LRB','LHyb'], datum.value) >= 0 ? '#222222' : scale('color', datum.value)"},
              "opacity": {"value": 1}
            }}
          }
        }
      }
    },
    "layer": [
      {
        "transform": [{"filter": "datum.series == 'Golden DN'"}],
        "mark": {"type": "rule", "strokeWidth": 2.2, "strokeDash": [2.5, 4.5]},
        "encoding": {}
      },
      {
        "transform": [{"filter": "datum.series == 'PW'"}],
        "mark": {"type": "rule", "strokeWidth": 1.2, "strokeDash": [1.2, 2]},
        "encoding": {}
      },
      {
        "transform": [{"filter": "datum.series == 'Augmented Sig'"}],
        "mark": {"type": "line", "strokeWidth": 2.8, "strokeDash": [11, 7], "interpolate": "monotone"},
        "encoding": {"y": {"field": "y", "type": "quantitative", "scale": {"domain": [0, 1], "nice": false}, "axis": null}}
      },
      {
        "transform": [{"filter": "datum.series == 'ABP Sig'"}],
        "mark": {"type": "line", "strokeWidth": 2.5, "interpolate": "monotone"},
        "encoding": {"y": {"field": "y", "type": "quantitative", "scale": {"domain": [0, 1], "nice": false}, "axis": null}}
      },
      {
        "transform": [{"filter": "indexof(['PRB','PHyb','LRB','LHyb'], datum.series) >= 0"}],
        "mark": {"type": "point", "filled": true, "size": 38, "stroke": "#1a1a1a", "strokeWidth": 0.8, "opacity": 1},
        "encoding": {"y": {"field": "y", "type": "quantitative", "scale": {"domain": [0, 1], "nice": false}, "axis": null}}
      }
    ]
  },
  "config": {
    "font": "Lato",
    "headerFacet": {"labels": false, "title": null, "labelExpr": "''"},
    "view": {"fill": "#f4f4f4", "stroke": "#777777", "strokeWidth": 1.6},
    "axisX": {
      "title": null, "tickCount": 5, "format": ".1f", "grid": true, "gridColor": "#d2d2d2", "gridWidth": 1,
      "ticks": false, "tickSize": 0, "domain": false, "labelFontSize": 12, "labelColor": "#555555",
      "labelPadding": 8, "labelFlush": false, "labelOverlap": false
    }
  }
}
